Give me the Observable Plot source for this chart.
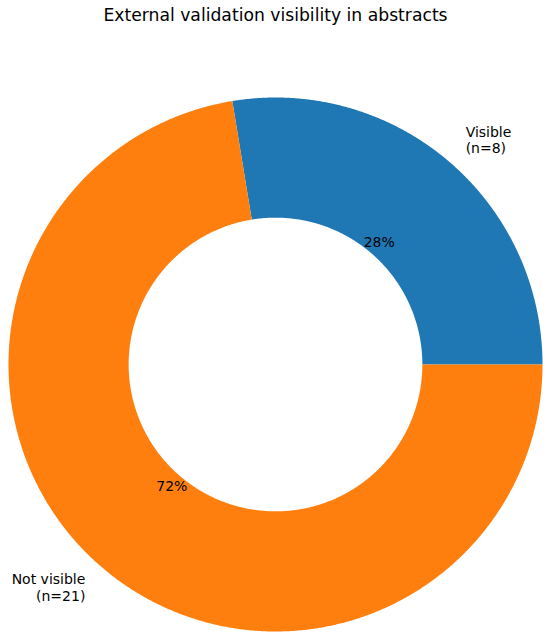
<!DOCTYPE html>
<html>
<head>
<meta charset="utf-8">
<script src="https://cdn.jsdelivr.net/npm/d3@7"></script>
<script src="https://cdn.jsdelivr.net/npm/@observablehq/plot@0.6"></script>
<style>
  html, body { margin: 0; padding: 0; background: #fff; }
  #chart { width: 550px; height: 640px; }
</style>
</head>
<body>
<div id="chart"></div>
<script>
const title = "External validation visibility in abstracts";
const categories = ["Visible", "Not visible"];
const counts = [8, 21];
const colors = ["#1f77b4", "#ff7f0e"];

const total = d3.sum(counts);
const innerR = 0.55;
const wedges = [];
let a = 0;
categories.forEach((c, i) => {
  const span = counts[i] / total * 2 * Math.PI;
  wedges.push({category: c, count: counts[i], a0: a, a1: a + span, mid: a + span / 2, pct: counts[i] / total * 100});
  a += span;
});

const pts = [];
wedges.forEach(w => {
  const n = Math.max(4, Math.ceil((w.a1 - w.a0) / (Math.PI / 720)));
  for (let k = 0; k <= n; k++) {
    const t = w.a0 + (w.a1 - w.a0) * k / n;
    pts.push({category: w.category, x: Math.cos(t), y: Math.sin(t)});
  }
  for (let k = n; k >= 0; k--) {
    const t = w.a0 + (w.a1 - w.a0) * k / n;
    pts.push({category: w.category, x: innerR * Math.cos(t), y: innerR * Math.sin(t)});
  }
});

const labels = wedges.map(w => ({
  text: `${w.category}\n(n=${w.count})`,
  x: 1.1 * Math.cos(w.mid),
  y: 1.1 * Math.sin(w.mid)
}));
const pcts = wedges.map(w => ({
  text: `${Math.round(w.pct)}%`,
  x: 0.6 * Math.cos(w.mid),
  y: 0.6 * Math.sin(w.mid)
}));

const font = "DejaVu Sans";
const plot = Plot.plot({
  width: 550,
  height: 640,
  marginLeft: 8,
  marginRight: 8,
  marginTop: 97,
  marginBottom: 9,
  style: {fontFamily: font, background: "#fff"},
  x: {domain: [-1, 1], axis: null},
  y: {domain: [-1, 1], axis: null},
  color: {domain: categories, range: colors},
  marks: [
    Plot.line(pts, {x: "x", y: "y", z: "category", fill: "category", stroke: "none", curve: "linear-closed"}),
    Plot.text(labels.filter(d => d.x >= 0), {x: "x", y: "y", dy: -1, text: "text", textAnchor: "start", lineAnchor: "middle", lineHeight: 1.2, fontSize: 14, fill: "black", fontFamily: font}),
    Plot.text(labels.filter(d => d.x < 0), {x: "x", y: "y", dy: -1, text: "text", textAnchor: "end", lineAnchor: "middle", lineHeight: 1.2, fontSize: 14, fill: "black", fontFamily: font}),
    Plot.text(pcts, {x: "x", y: "y", text: "text", textAnchor: "middle", lineAnchor: "middle", fontSize: 14, fill: "black", fontFamily: font}),
    Plot.text([title], {frameAnchor: "top", dy: -82, text: d => d, textAnchor: "middle", lineAnchor: "middle", fontSize: 17.2, fill: "black", fontFamily: font})
  ]
});
document.getElementById("chart").appendChild(plot);
</script>
</body>
</html>
